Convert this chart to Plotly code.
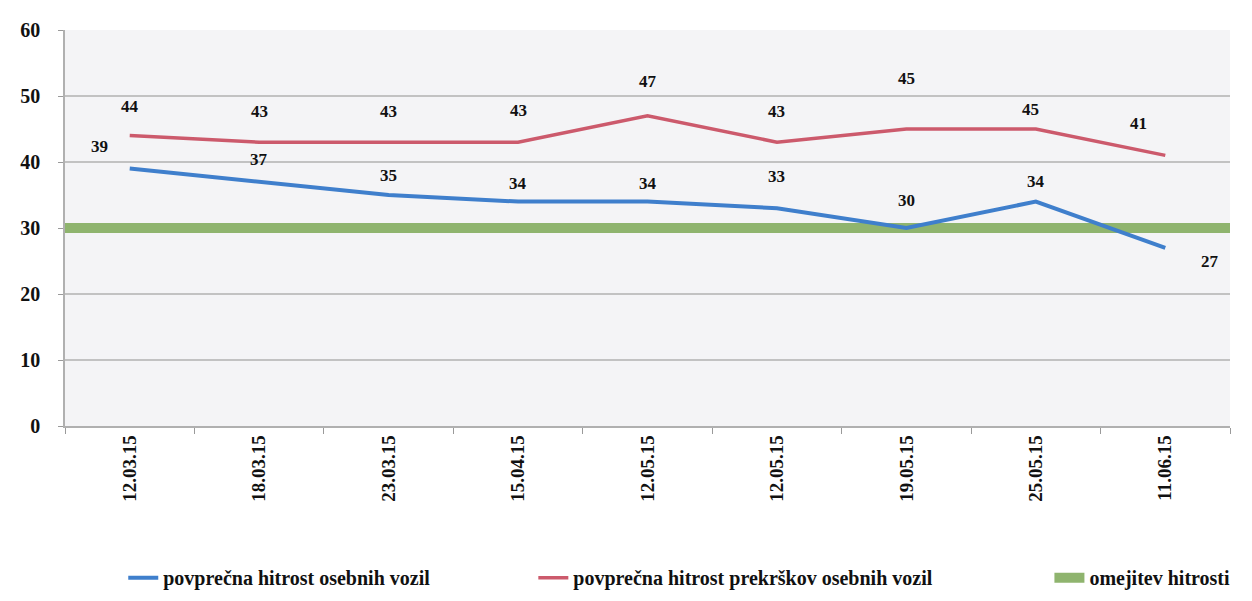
import plotly.graph_objects as go

# ---- data ----
dates = ["12.03.15", "18.03.15", "23.03.15", "15.04.15", "12.05.15",
         "12.05.15", "19.05.15", "25.05.15", "11.06.15"]
avg_speed = [39, 37, 35, 34, 34, 33, 30, 34, 27]
avg_violation_speed = [44, 43, 43, 43, 47, 43, 45, 45, 41]
speed_limit = 30

name_avg = "povprečna hitrost osebnih vozil"
name_viol = "povprečna hitrost prekrškov osebnih vozil"
name_limit = "omejitev hitrosti"

# label offsets (style only, px)
blue_off = [(-30, 22), (0, 22), (0, 20), (0, 18), (0, 18), (0, 32), (0, 28), (0, 20), (45, -14)]
red_off = [(0, 29), (0, 31), (0, 31), (0, 32), (0, 34), (0, 31), (0, 51), (-5, 20), (-27, 32)]

x = list(range(len(dates)))
# speed limit band spans the full category extent
x_edges = [x[0] - 0.5, x[-1] + 0.5]

BLUE = "#3f7fcc"
RED = "#cc5a6c"
GREEN = "#8fb46e"
SERIF = "Liberation Serif, Times New Roman, serif"

fig = go.Figure()

fig.add_trace(go.Scatter(
    x=x_edges, y=[speed_limit] * len(x_edges), mode="lines", name=name_limit,
    line=dict(color=GREEN, width=10), legend="legend3", showlegend=True,
    hoverinfo="skip"))
fig.add_trace(go.Scatter(
    x=x, y=avg_speed, mode="lines", name=name_avg,
    line=dict(color=BLUE, width=4), legend="legend", showlegend=True))
fig.add_trace(go.Scatter(
    x=x, y=avg_violation_speed, mode="lines", name=name_viol,
    line=dict(color=RED, width=3.5), legend="legend2", showlegend=True))

label_font = dict(family=SERIF, size=17, color="#111111", weight="bold")
for xi, v, (dx, dy) in zip(x, avg_speed, blue_off):
    fig.add_annotation(x=xi, y=v, text=str(v), showarrow=False,
                       xshift=dx, yshift=dy, font=label_font)
for xi, v, (dx, dy) in zip(x, avg_violation_speed, red_off):
    fig.add_annotation(x=xi, y=v, text=str(v), showarrow=False,
                       xshift=dx, yshift=dy, font=label_font)

legend_font = dict(family=SERIF, size=20, color="#111111", weight="bold")
common_leg = dict(orientation="h", yanchor="middle", xanchor="left",
                  font=legend_font, bgcolor="rgba(0,0,0,0)",
                  itemwidth=30, visible=True)

fig.update_layout(
    width=1252, height=601,
    showlegend=True,
    margin=dict(l=57, r=30, t=22, b=176),
    paper_bgcolor="white",
    plot_bgcolor="#f4f4f6",
    legend=dict(x=0.05, y=-0.383, **common_leg),
    legend2=dict(x=0.402, y=-0.383, **common_leg),
    legend3=dict(x=0.845, y=-0.383, **common_leg),
    xaxis=dict(
        range=x_edges,
        tickmode="array", tickvals=x, ticktext=dates,
        tickangle=-90,
        tickfont=dict(family=SERIF, size=19, color="#111111", weight="bold"),
        ticks="", showgrid=False, zeroline=False,
        showline=True, linecolor="#b0b0b0", linewidth=1.5,
        minor=dict(tickmode="linear", tick0=0.5, dtick=1, ticks="outside",
                   ticklen=6, tickcolor="#9a9a9a", showgrid=False),
    ),
    yaxis=dict(
        range=[0, 60], dtick=10, tick0=0,
        tickfont=dict(family=SERIF, size=20, color="#111111", weight="bold"),
        ticks="outside", ticklen=5, tickcolor="#9a9a9a",
        showgrid=True, gridcolor="#c2c2c2", gridwidth=1.5,
        zeroline=False, showline=True, linecolor="#b0b0b0", linewidth=1.5,
        ticklabelstandoff=14,
    ),
)

fig.write_html("out.html")
